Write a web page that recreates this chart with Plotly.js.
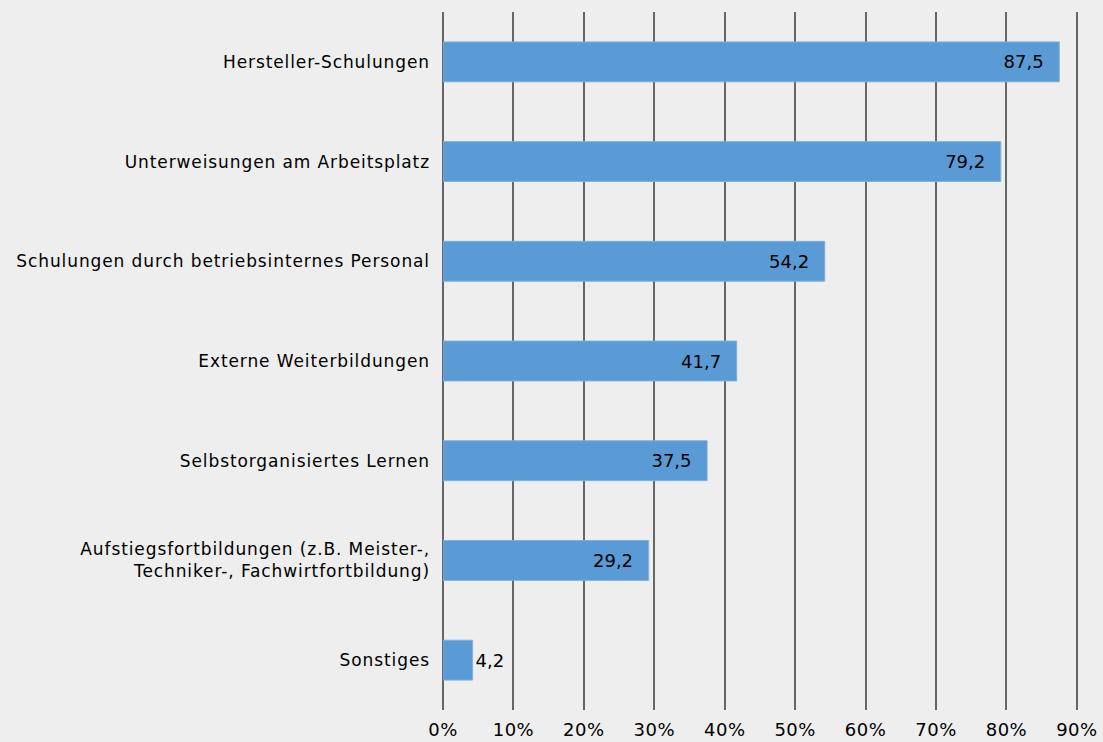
<!DOCTYPE html>
<html><head><meta charset="utf-8">
<script src="https://cdn.plot.ly/plotly-3.0.1.min.js"></script>
<style>
html,body{margin:0;padding:0;background:#eeeeee;}
#chart .ytick text{letter-spacing:0.9px;}
#chart .xtick text{letter-spacing:0.5px;}
</style>
</head><body>
<div id="chart" style="width:1103px;height:742px;"></div>
<script>
const categories = [
  "Hersteller-Schulungen",
  "Unterweisungen am Arbeitsplatz",
  "Schulungen durch betriebsinternes Personal",
  "Externe Weiterbildungen",
  "Selbstorganisiertes Lernen",
  "Aufstiegsfortbildungen (z.B. Meister-,<br>Techniker-, Fachwirtfortbildung)",
  "Sonstiges"
];
const values = [87.5, 79.2, 54.2, 41.7, 37.5, 29.2, 4.2];
const tickVals = [0, 10, 20, 30, 40, 50, 60, 70, 80, 90];
const tickText = ["0%", "10%", "20%", "30%", "40%", "50%", "60%", "70%", "80%", "90%"];

const trace = {
  type: 'bar',
  orientation: 'h',
  y: categories,
  x: values,
  marker: {color: '#5b9bd5', line: {color: '#7fb0de', width: 1}},
  texttemplate: values.map(v => v < 10 ? '%{x:.1f}' : '%{x:.1f}\u2002\u2009'),
  textposition: values.map(v => v < 10 ? 'outside' : 'inside'),
  insidetextanchor: 'end',
  textfont: {color: '#000000', size: 18, family: 'DejaVu Sans, sans-serif'},
  outsidetextfont: {color: '#000000', size: 18, family: 'DejaVu Sans, sans-serif'},
  cliponaxis: false,
  hoverinfo: 'none'
};

const layout = {
  width: 1103, height: 742,
  paper_bgcolor: '#eeeeee', plot_bgcolor: '#eeeeee',
  margin: {l: 443, r: 24, t: 12, b: 32},
  separators: ',.',
  bargap: 0.6,
  showlegend: false,
  font: {family: 'DejaVu Sans, sans-serif', size: 17, color: '#000000'},
  xaxis: {
    range: [0, 90.3],
    tickmode: 'array',
    tickvals: tickVals,
    ticktext: tickText,
    showgrid: true, gridcolor: '#666666', gridwidth: 2,
    zeroline: true, zerolinecolor: '#666666', zerolinewidth: 2,
    showline: false, ticks: '',
    ticklabelstandoff: 7,
    tickfont: {size: 18, color: '#000000'},
    fixedrange: true
  },
  yaxis: {
    autorange: 'reversed',
    showgrid: false, zeroline: false, showline: false, ticks: '',
    ticklabelstandoff: 12,
    tickfont: {size: 17, color: '#000000'},
    fixedrange: true
  }
};

Plotly.newPlot('chart', [trace], layout, {displayModeBar: false, staticPlot: true});
</script>
</body></html>
